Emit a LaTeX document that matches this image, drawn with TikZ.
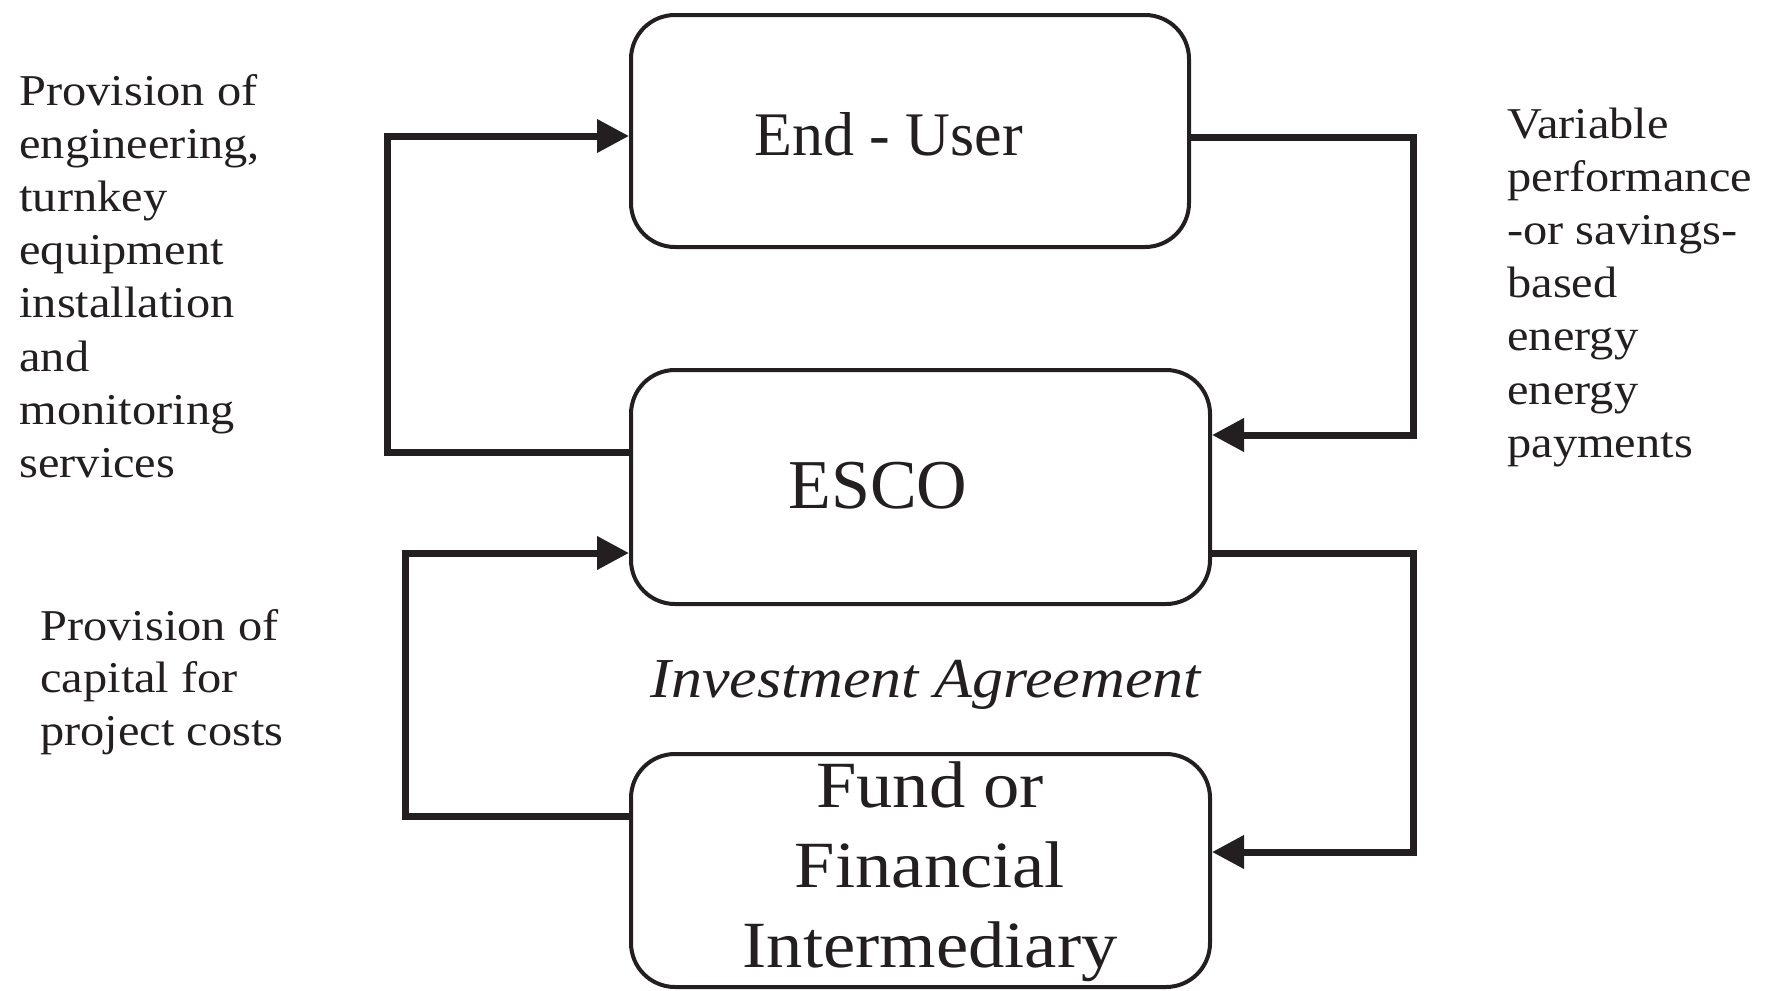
\documentclass[tikz,border=0pt]{standalone}
\usepackage{fontspec}
\setmainfont{Liberation Serif}
\newfontfamily\widefont[FakeStretch=1.1]{Liberation Serif}
\usetikzlibrary{arrows.meta}
\definecolor{ink}{RGB}{35,31,32}
\begin{document}
\begin{tikzpicture}[x=0.5pt,y=-0.5pt,
  box/.style={draw=ink, line width=2pt, rounded corners=22pt, inner sep=0pt},
  conn/.style={draw=ink, line width=3.5pt},
  arr/.style={-{Triangle[length=16pt,width=16pt]}},
  lbl/.style={inner sep=0pt, anchor=base west, text=ink},
  side/.style={lbl, font=\widefont\fontsize{22}{26.6}\selectfont},
]
\useasboundingbox (0,0) rectangle (1768,991);

% boxes
\node[box, minimum width=279pt, minimum height=116pt] (eu) at (910,131) {};
\node[box, minimum width=289.5pt, minimum height=117pt] (esco) at (920.5,487) {};
\node[box, minimum width=289.5pt, minimum height=116.5pt] (fund) at (920.5,870.5) {};

% box texts
\node[lbl, font=\fontsize{31}{37}\selectfont] (eut) at (754,155) {End - User};
\node[lbl, font=\fontsize{35}{42}\selectfont] (escot) at (788,508) {ESCO};
\node[lbl, anchor=base, font=\widefont\fontsize{33}{40}\selectfont] (fundt) at (930,807)
  {\begin{tabular}[t]{@{}c@{}}Fund or\\Financial\\Intermediary\end{tabular}};

% helper coordinates
\coordinate (bendA) at (387,136);
\coordinate (yA) at (0,452);
\coordinate (bendB) at (1413,137);
\coordinate (yB) at (0,435);
\coordinate (bendC) at (405,553);
\coordinate (yC) at (0,816);
\coordinate (bendD) at (1413,553);
\coordinate (yD) at (0,852);

% connectors
\draw[conn,arr] (esco.west |- yA) -| (bendA) -- (eu.west |- bendA);
\draw[conn,arr] (eu.east |- bendB) -- (bendB) |- (esco.east |- yB);
\draw[conn,arr] (fund.west |- yC) -| (bendC) -- (esco.west |- bendC);
\draw[conn,arr] (esco.east |- bendD) -- (bendD) |- (fund.east |- yD);

% side labels
\node[side] (lt) at (19,105) {\begin{tabular}[t]{@{}l@{}}Provision of\\engineering,\\turnkey\\equipment\\installation\\and\\monitoring\\services\end{tabular}};
\node[side] (rt) at (1507,138) {\begin{tabular}[t]{@{}l@{}}Variable\\performance\\-or savings-\\based\\energy\\energy\\payments\end{tabular}};
\node[side, font=\widefont\fontsize{22}{26.25}\selectfont] (lb) at (40,640) {\begin{tabular}[t]{@{}l@{}}Provision of\\capital for\\project costs\end{tabular}};
\node[lbl, font=\widefont\itshape\fontsize{28.2}{34}\selectfont] (inv) at (650,697) {Investment Agreement};
\end{tikzpicture}
\end{document}
